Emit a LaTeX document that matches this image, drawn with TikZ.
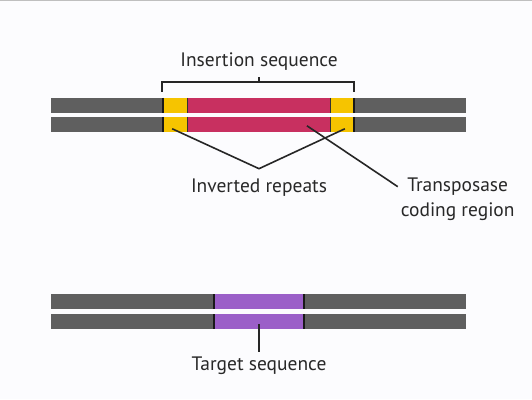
\documentclass[tikz,border=0pt]{standalone}
\usepackage{fontspec}
\setmainfont{PT Sans}
\usetikzlibrary{positioning}
\definecolor{dnagray}{RGB}{95,95,95}
\definecolor{irgold}{RGB}{246,196,0}
\definecolor{tpred}{RGB}{200,48,96}
\definecolor{tgpurple}{RGB}{155,95,200}
\definecolor{txtgray}{RGB}{40,40,40}
\definecolor{paper}{RGB}{252,252,254}
\tikzset{strand/.style = {fill=dnagray}}
\tikzset{edge/.style = {draw=black!90, line width=1.8}}
\tikzset{pointer/.style = {draw=black!85, line width=1.6}}
\tikzset{txt/.style = {text=txtgray, inner sep=1, font=\fontsize{19.5}{25}\selectfont}}

\begin{document}
\begin{tikzpicture}[x=1pt, y=-1pt]
    \fill [paper] (0, 0) rectangle (532, 400);
    \draw [black!25, line width=1] (0, 0.5) -- (532, 0.5);
    \useasboundingbox (0, 0) rectangle (532, 400);

    % insertion sequence in the host DNA
    \foreach \y in {98, 117} {
      \fill [strand] (51, \y) rectangle (466, \y+15);
      \fill [irgold] (162, \y) rectangle (355, \y+15);
      \fill [tpred] (187, \y) rectangle (331, \y+15);
      \draw [edge] (163, \y) -- (163, \y+15);
      \draw [edge] (354, \y) -- (354, \y+15);
      \draw [black!80, line width=0.8] (187, \y) -- (187, \y+15);
      \draw [black!80, line width=0.8] (331, \y) -- (331, \y+15);
    }

    \node [txt] (insertion) at (259, 62) {Insertion sequence};
    \coordinate (brace) at (259, 82);
    \draw [pointer] (162, 92) -- (162, 82) -- (354, 82) -- (354, 92);
    \draw [pointer] (brace) -- (259, 77);

    \coordinate (irleft) at (172, 129);
    \coordinate (irright) at (345, 129);
    \coordinate (irjoin) at (259, 169);
    \node [txt] (inverted) at (259, 188) {Inverted repeats};
    \draw [pointer] (irleft) -- (irjoin) -- (irright);

    \coordinate (tpstart) at (307, 126);
    \coordinate (tpend) at (398, 187);
    \node [txt, align=center] (transposase) at (458, 200)
      {Transposase\\coding region};
    \draw [pointer] (tpstart) -- (tpend);

    % target site
    \foreach \y in {295, 315} {
      \fill [strand] (51, \y) rectangle (466, \y+15);
      \fill [tgpurple] (213, \y) rectangle (305, \y+15);
      \draw [edge] (214, \y) -- (214, \y+15);
      \draw [edge] (304, \y) -- (304, \y+15);
    }

    \coordinate (tgsite) at (259, 325);
    \node [txt] (target) at (259, 366) {Target sequence};
    \draw [pointer] (tgsite) -- (259, 353);
  \end{tikzpicture}
\end{document}
